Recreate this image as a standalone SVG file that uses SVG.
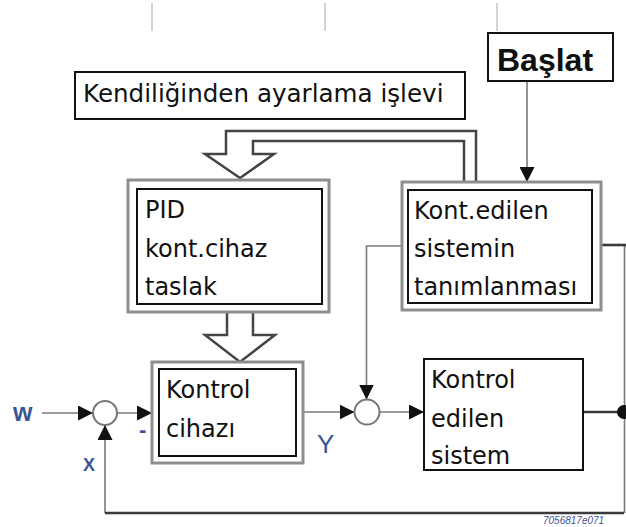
<svg xmlns="http://www.w3.org/2000/svg" width="626" height="527" viewBox="0 0 626 527">
<style>
.bg{fill:#fff}
.outer{fill:#fff;stroke:#8e8e8e;stroke-width:3}
.inner{fill:#fff;stroke:#111;stroke-width:2}
.box{fill:#fff;stroke:#111;stroke-width:2}
.t{font-family:"DejaVu Sans",sans-serif;font-size:24px;fill:#111}
.lbl{font-family:"Liberation Sans",Arial,sans-serif;fill:#3b5592}
.thin{fill:none;stroke:#7a7a7a;stroke-width:1.6}
.dark{fill:none;stroke:#3a3a3a;stroke-width:2.6}
.hollow{fill:none;stroke:#444;stroke-width:2.5;stroke-linejoin:miter}
.sum{fill:#fff;stroke:#777;stroke-width:2}
.tick{stroke:#c4c4c4;stroke-width:1.5}
</style>
<defs>
<marker id="ah" markerUnits="userSpaceOnUse" markerWidth="15" markerHeight="15" refX="15" refY="7.5" orient="auto">
<path d="M0,0 L15,7.5 L0,15 z" fill="#111"/>
</marker>
</defs>
<rect class="bg" x="0" y="0" width="626" height="527"/>
<g id="ticks">
<line class="tick" x1="152" y1="3" x2="152" y2="31"/>
<line class="tick" x1="325" y1="3" x2="325" y2="31"/>
<line class="tick" x1="497" y1="3" x2="497" y2="31"/>
</g>
<g id="connectors">
<path class="thin" d="M527,81 V182" marker-end="url(#ah)"/>
<path class="thin" d="M42,413 H93" marker-end="url(#ah)"/>
<path class="thin" d="M117,413 H152" marker-end="url(#ah)"/>
<path class="thin" d="M105,513 V425" marker-end="url(#ah)"/>
<path class="dark" d="M105,513 H624"/>
<path class="thin" d="M624.5,245 V513"/>
<path class="dark" d="M601,245 H626"/>
<path class="thin" d="M303,412 H354.5" marker-end="url(#ah)"/>
<path class="thin" d="M402,246 H366.5 V399.5" marker-end="url(#ah)"/>
<path class="thin" d="M379.5,412 H424" marker-end="url(#ah)"/>
<path class="dark" d="M583,412 H626"/>
<circle cx="624" cy="412" r="7" fill="#111"/>
<path class="hollow" d="M476,182 V131 H226 V154 H205 L240,178 L274,154 H253 V141 H464 V182"/>
<path class="hollow" d="M227,312 V335 H205 L240,362 L275,335 H253 V312"/>
</g>
<g id="baslat">
<rect class="box" x="488" y="33" width="125" height="48"/>
<text x="497" y="71" font-family="Liberation Sans,Arial,sans-serif" font-size="32" font-weight="bold" fill="#111">Başlat</text>
</g>
<g id="kendiliginden">
<rect class="box" x="75" y="72" width="390" height="47"/>
<text x="83" y="102" font-family="DejaVu Sans,sans-serif" font-size="24.6" fill="#111">Kendiliğinden ayarlama işlevi</text>
</g>
<g id="pid">
<rect class="outer" x="128" y="180" width="201" height="132"/>
<rect class="inner" x="137" y="189" width="185" height="115"/>
<text class="t" x="145" y="218">PID</text>
<text class="t" x="145" y="257">kont.cihaz</text>
<text class="t" x="145" y="295">taslak</text>
</g>
<g id="tanimlama">
<rect class="outer" x="402" y="182" width="199" height="128"/>
<rect class="inner" x="408" y="190" width="184" height="113"/>
<text class="t" x="414" y="219">Kont.edilen</text>
<text class="t" x="414" y="257">sistemin</text>
<text class="t" x="414" y="295">tanımlanması</text>
</g>
<g id="kontrolcihazi">
<rect class="outer" x="152" y="362" width="151" height="101"/>
<rect class="inner" x="159" y="369" width="137" height="87"/>
<text class="t" x="166" y="398">Kontrol</text>
<text class="t" x="166" y="437">cihazı</text>
</g>
<g id="sistem">
<rect class="box" x="424" y="359" width="159" height="111"/>
<text class="t" x="431" y="388">Kontrol</text>
<text class="t" x="431" y="427">edilen</text>
<text class="t" x="431" y="464">sistem</text>
</g>
<g id="sum1"><circle class="sum" cx="105" cy="413" r="12"/></g>
<g id="sum2"><circle class="sum" cx="367" cy="412" r="12.5"/></g>
<g id="labels">
<text class="lbl" x="13" y="421" font-size="25" font-weight="bold">w</text>
<text class="lbl" x="139" y="437" font-size="22" font-weight="bold" fill="#6b6f80">-</text>
<text class="lbl" x="83" y="471" font-size="18" font-weight="bold">X</text>
<text class="lbl" x="317" y="453" font-size="26" fill="#3d63b3">Y</text>
<text class="lbl" x="543" y="524" font-size="10" font-style="italic" fill="#4f5f86">7056817e071</text>
</g>
</svg>
